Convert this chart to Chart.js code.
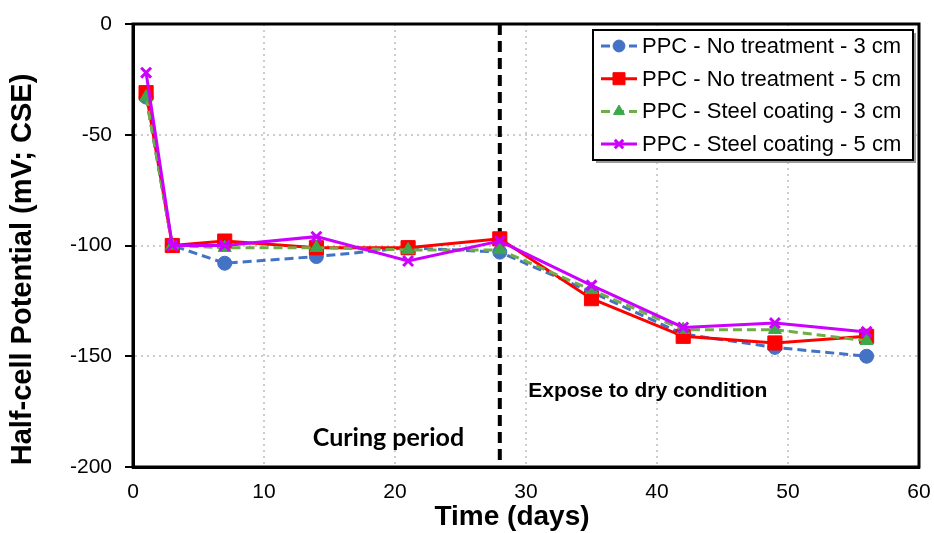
<!DOCTYPE html>
<html>
<head>
<meta charset="utf-8">
<script src="https://cdn.jsdelivr.net/npm/chart.js@4/dist/chart.umd.min.js"></script>
<style>
  html, body { margin: 0; padding: 0; background: #fff; }
  #wrap { width: 934px; height: 533px; position: relative; }
</style>
</head>
<body>
<div id="wrap"><canvas id="chart" width="934" height="533"></canvas></div>
<script>
const days = [1, 3, 7, 14, 21, 28, 35, 42, 49, 56];
const noTreatment3 = [-33, -100, -108, -105, -101, -103, -121, -140, -146, -150];
const noTreatment5 = [-31, -100, -98, -101, -101, -97, -124, -141, -144, -141];
const steelCoating3 = [-33, -100, -101, -101, -102, -102, -120, -138, -138, -143];
const steelCoating5 = [-22, -100, -100, -96, -107, -98, -118, -137, -135, -139];
const seriesNames = [
    'PPC - No treatment - 3 cm',
    'PPC - No treatment - 5 cm',
    'PPC - Steel coating - 3 cm',
    'PPC - Steel coating - 5 cm'
];
const xTicks = [0, 10, 20, 30, 40, 50, 60];
const yTicks = [0, -50, -100, -150, -200];
const phaseChangeDay = 28;
const notes = [
    { text: 'Curing period', x: 19.5, y: -187 },
    { text: 'Expose to dry condition', x: 39.3, y: -166 }
];
const xTitle = 'Time (days)';
const yTitle = 'Half-cell Potential (mV; CSE)';

const FONT = "'Liberation Sans', Arial, sans-serif";

const toPoints = (vals) => vals.map((v, i) => ({ x: days[i], y: v }));

// frame round the plot, the dashed day-28 line, notes and axis titles
const extras = {
    id: 'extras',
    beforeDatasetsDraw(chart) {
        const { ctx, chartArea: a, scales } = chart;
        ctx.save();
        ctx.strokeStyle = '#000';
        ctx.lineWidth = 3;
        ctx.strokeRect(a.left, a.top, a.right - a.left, a.bottom - a.top);

        const px = scales.x.getPixelForValue(phaseChangeDay);
        ctx.lineWidth = 4;
        ctx.setLineDash([11, 6]);
        ctx.beginPath();
        ctx.moveTo(px, a.top);
        ctx.lineTo(px, a.bottom);
        ctx.stroke();
        ctx.setLineDash([]);

        ctx.fillStyle = '#000';
        ctx.textAlign = 'center';
        ctx.textBaseline = 'middle';
        ctx.font = "bold 25px Lato, 'Open Sans', sans-serif";
        ctx.fillText(notes[0].text, scales.x.getPixelForValue(notes[0].x), scales.y.getPixelForValue(notes[0].y));
        ctx.font = 'bold 21px ' + FONT;
        ctx.fillText(notes[1].text, scales.x.getPixelForValue(notes[1].x), scales.y.getPixelForValue(notes[1].y));

        // axis titles
        ctx.font = 'bold 28px ' + FONT;
        ctx.fillText(xTitle, (a.left + a.right) / 2 - 14, a.bottom + 50);
        ctx.save();
        ctx.translate(23, (a.top + a.bottom) / 2 + 24);
        ctx.rotate(-Math.PI / 2);
        ctx.font = 'bold 29px ' + FONT;
        ctx.fillText(yTitle, 0, 0);
        ctx.restore();
        ctx.restore();
    },
    afterDraw(chart) {
        // legend box inside the plot, top right
        const { ctx, chartArea: a } = chart;
        const boxW = 320, boxH = 130;
        const bx = a.right - 6 - boxW, by = a.top + 6;
        ctx.save();
        ctx.fillStyle = '#9a9a9a';
        ctx.fillRect(bx + 3, by + 3, boxW, boxH);
        ctx.fillStyle = '#fff';
        ctx.fillRect(bx, by, boxW, boxH);
        ctx.strokeStyle = '#000';
        ctx.lineWidth = 2;
        ctx.strokeRect(bx, by, boxW, boxH);

        chart.data.datasets.forEach((ds, row) => {
            const y = by + 16 + row * 32.7;
            const x0 = bx + 8, x1 = bx + 44;
            ctx.strokeStyle = ds.borderColor;
            ctx.lineWidth = ds.borderWidth;
            ctx.setLineDash(ds.borderDash || []);
            ctx.beginPath();
            ctx.moveTo(x0, y);
            ctx.lineTo(x1, y);
            ctx.stroke();
            ctx.setLineDash([]);
            ctx.fillStyle = ds.pointBackgroundColor;
            ctx.strokeStyle = ds.pointBorderColor;
            ctx.lineWidth = ds.pointBorderWidth;
            Chart.helpers.drawPoint(ctx, {
                pointStyle: ds.pointStyle,
                radius: ds.pointRadius * 0.85,
                borderWidth: ds.pointBorderWidth,
                rotation: 0
            }, (x0 + x1) / 2, y);
            ctx.fillStyle = '#000';
            ctx.font = '22px ' + FONT;
            ctx.textAlign = 'left';
            ctx.textBaseline = 'middle';
            ctx.fillText(ds.label, x1 + 5, y + 1);
        });
        ctx.restore();
    }
};

new Chart(document.getElementById('chart'), {
    type: 'line',
    data: {
        datasets: [
            {
                label: seriesNames[0],
                data: toPoints(noTreatment3),
                borderColor: '#4472C4',
                borderWidth: 3,
                borderDash: [9, 5],
                pointStyle: 'circle',
                pointRadius: 7,
                pointBackgroundColor: '#4472C4',
                pointBorderColor: '#4472C4',
                pointBorderWidth: 1,
                order: 4
            },
            {
                label: seriesNames[1],
                data: toPoints(noTreatment5),
                borderColor: '#FF0000',
                borderWidth: 3,
                pointStyle: 'rect',
                pointRadius: 10,
                pointBackgroundColor: '#FF0000',
                pointBorderColor: '#FF0000',
                pointBorderWidth: 1,
                order: 3
            },
            {
                label: seriesNames[2],
                data: toPoints(steelCoating3),
                borderColor: '#70AD47',
                borderWidth: 3,
                borderDash: [9, 5],
                pointStyle: 'triangle',
                pointRadius: 7.5,
                pointBackgroundColor: '#3CA84A',
                pointBorderColor: '#3CA84A',
                pointBorderWidth: 1,
                order: 2
            },
            {
                label: seriesNames[3],
                data: toPoints(steelCoating5),
                borderColor: '#CC00FF',
                borderWidth: 3,
                pointStyle: 'crossRot',
                pointRadius: 7,
                pointBackgroundColor: '#CC00FF',
                pointBorderColor: '#CC00FF',
                pointBorderWidth: 3,
                order: 1
            }
        ]
    },
    options: {
        responsive: false,
        animation: false,
        layout: { padding: { top: 24, right: 15, left: 0, bottom: 0 } },
        plugins: {
            legend: { display: false },
            tooltip: { enabled: false }
        },
        scales: {
            x: {
                type: 'linear',
                min: 0,
                max: 60,
                afterBuildTicks: (s) => { s.ticks = xTicks.map(v => ({ value: v })); },
                afterFit: (s) => { s.height = 66; s.paddingRight = 0; s.paddingLeft = 0; },
                ticks: {
                    color: '#000',
                    font: { family: FONT, size: 21 },
                    padding: 13,
                    maxRotation: 0
                },
                grid: {
                    color: (c) => (c.tick && (c.tick.value === 0 || c.tick.value === 60)) ? 'rgba(0,0,0,0)' : '#cdcdcd',
                    lineWidth: 2,
                    drawTicks: false
                },
                border: { display: true, color: '#000', width: 3, dash: [2, 4] }
            },
            y: {
                min: -200,
                max: 0,
                afterBuildTicks: (s) => { s.ticks = yTicks.map(v => ({ value: v })); },
                afterFit: (s) => { s.width = 133; s.paddingTop = 0; s.paddingBottom = 0; },
                ticks: {
                    color: '#000',
                    font: { family: FONT, size: 21 },
                    padding: 13
                },
                grid: {
                    color: (c) => (c.tick && (c.tick.value === 0 || c.tick.value === -200)) ? 'rgba(0,0,0,0)' : '#cdcdcd',
                    lineWidth: 2,
                    drawTicks: true,
                    tickLength: 8,
                    tickColor: '#000',
                    tickWidth: 2
                },
                border: { display: true, color: '#000', width: 3, dash: [2, 4] }
            }
        }
    },
    plugins: [extras]
});
</script>
</body>
</html>
